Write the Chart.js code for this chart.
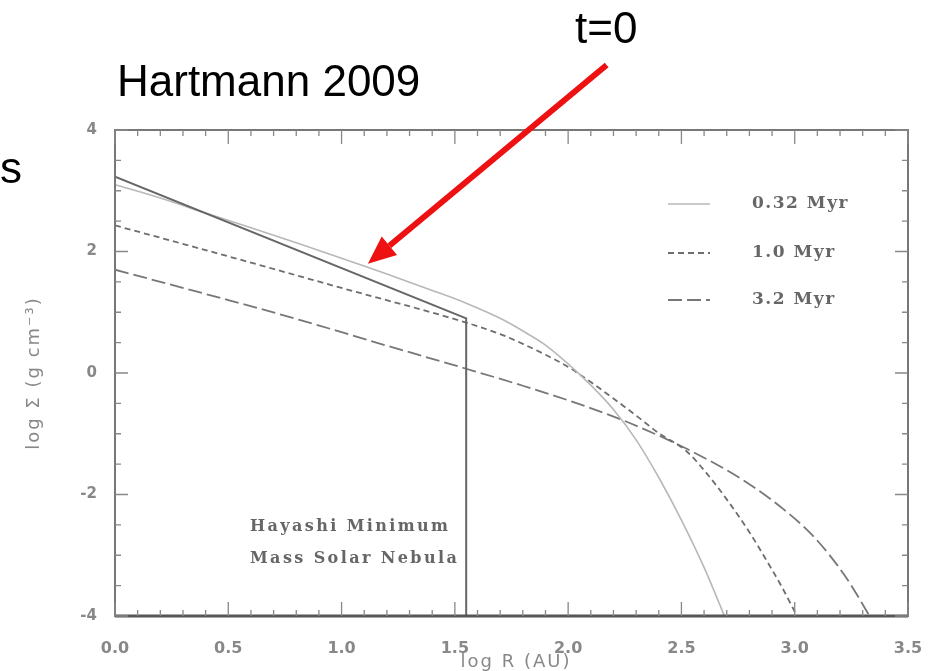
<!DOCTYPE html>
<html>
<head>
<meta charset="utf-8">
<script src="https://cdn.jsdelivr.net/npm/chart.js@4.4.1/dist/chart.umd.min.js"></script>
<style>
  html, body { margin: 0; padding: 0; background: #fff; }
  #wrap { position: relative; width: 932px; height: 671px; }
</style>
</head>
<body>
<div id="wrap"><canvas id="disk" width="932" height="671"></canvas></div>
<script>
// log R (AU) and log Sigma (g cm^-2) for each profile
const mmsnR = [0, 1.55, 1.55];
const mmsnSigma = [3.23, 0.9, -4];

const r032 = [0, 0.2, 0.41, 0.6, 0.81, 1.0, 1.1, 1.2, 1.4, 1.55, 1.7, 1.81, 1.9, 2.0, 2.1, 2.2, 2.3, 2.4, 2.5, 2.6, 2.69];
const s032 = [3.1, 2.88, 2.62, 2.39, 2.13, 1.89, 1.76, 1.63, 1.36, 1.15, 0.9, 0.67, 0.46, 0.15, -0.2, -0.6, -1.1, -1.72, -2.42, -3.2, -4];

const r10 = [0, 0.5, 1.0, 1.55, 1.7, 1.8, 1.9, 2.0, 2.1, 2.2, 2.3, 2.4, 2.52, 2.6, 2.7, 2.8, 2.87, 2.94, 3.01];
const s10 = [2.43, 1.92, 1.4, 0.83, 0.64, 0.48, 0.3, 0.1, -0.15, -0.42, -0.7, -0.99, -1.28, -1.6, -2.08, -2.62, -3.05, -3.5, -4];

const r32 = [0, 0.5, 0.81, 1.2, 1.55, 1.8, 2.04, 2.23, 2.4, 2.53, 2.7, 2.82, 2.95, 3.07, 3.15, 3.22, 3.27, 3.33];
const s32 = [1.7, 1.2, 0.88, 0.45, 0.07, -0.21, -0.5, -0.76, -1.03, -1.26, -1.6, -1.88, -2.24, -2.64, -2.98, -3.33, -3.62, -4];

const seriesNames = ["0.32 Myr", "1.0 Myr", "3.2 Myr"];
const xTicks = [0, 0.5, 1.0, 1.5, 2.0, 2.5, 3.0, 3.5];
const yTicks = [-4, -2, 0, 2, 4];

// where the red arrow starts and ends (log R, log Sigma)
const arrowFrom = [2.17, 5.07];
const arrowTo = [1.116, 1.8];

const pts = (xs, ys) => xs.map((x, i) => ({ x: x, y: ys[i] }));

const profiles = [
  { label: "MMSN", data: pts(mmsnR, mmsnSigma), borderColor: "#666", borderWidth: 2, tension: 0 },
  { label: seriesNames[0], data: pts(r032, s032), borderColor: "#b8b8b8", borderWidth: 1.6 },
  { label: seriesNames[1], data: pts(r10, s10), borderColor: "#6e6e6e", borderWidth: 1.8, borderDash: [6, 4] },
  { label: seriesNames[2], data: pts(r32, s32), borderColor: "#777", borderWidth: 1.8, borderDash: [14, 5] },
];
profiles.forEach((d, i) => {
  d.showLine = true;
  d.pointRadius = 0;
  d.fill = false;
  if (i > 0) d.cubicInterpolationMode = "monotone";
});

// box, inward ticks, legend, labels and the annotations around the plot
const framePlugin = {
  id: "frame",
  afterDraw(chart) {
    const c = chart.ctx;
    const a = chart.chartArea;
    const xs = chart.scales.x, ys = chart.scales.y;
    c.save();

    // frame
    c.strokeStyle = "#777";
    c.lineWidth = 2;
    c.strokeRect(a.left, a.top, a.right - a.left, a.bottom - a.top);
    c.strokeStyle = "#555";
    c.lineWidth = 3;
    c.beginPath();
    c.moveTo(a.left, a.bottom);
    c.lineTo(a.right, a.bottom);
    c.stroke();

    // tick marks pointing inward
    c.strokeStyle = "#888";
    c.lineWidth = 1.3;
    c.beginPath();
    for (let i = 0; i <= 35; i++) {
      const px = xs.getPixelForValue(i / 10);
      const len = i % 5 === 0 ? 14 : 6;
      c.moveTo(px, a.bottom); c.lineTo(px, a.bottom - len);
      c.moveTo(px, a.top); c.lineTo(px, a.top + len);
    }
    for (let j = -8; j <= 8; j++) {
      const py = ys.getPixelForValue(j / 2);
      const len = j % 4 === 0 ? 13 : 6;
      c.moveTo(a.left, py); c.lineTo(a.left + len, py);
      c.moveTo(a.right, py); c.lineTo(a.right - len, py);
    }
    c.stroke();

    // legend
    const rows = [a.top + 74, a.top + 123, a.top + 170];
    c.font = "bold 17px 'DejaVu Serif'";
    c.letterSpacing = "1.5px";
    c.textBaseline = "middle";
    rows.forEach((y, k) => {
      const ds = chart.data.datasets[k + 1];
      c.strokeStyle = ds.borderColor;
      c.lineWidth = ds.borderWidth;
      c.setLineDash(ds.borderDash || []);
      c.beginPath();
      c.moveTo(a.right - 240, y);
      c.lineTo(a.right - 198, y);
      c.stroke();
      c.setLineDash([]);
      c.fillStyle = "#666";
      c.fillText(ds.label, a.right - 156, y);
    });

    // MMSN note
    c.fillStyle = "#666";
    c.font = "bold 16px 'DejaVu Serif'";
    c.letterSpacing = "2.4px";
    c.textBaseline = "alphabetic";
    c.fillText("Hayashi Minimum", a.left + 135, 531);
    c.fillText("Mass Solar Nebula", a.left + 135, 563);

    // axis titles
    c.fillStyle = "#888";
    c.font = "18px 'DejaVu Sans'";
    c.letterSpacing = "2px";
    c.textAlign = "center";
    c.fillText("log R (AU)", 516, 667);
    c.save();
    c.translate(39, 373);
    c.rotate(-Math.PI / 2);
    c.fillText("log \u03A3 (g cm\u207B\u00B3)", 0, 0);
    c.restore();
    c.letterSpacing = "0px";

    // red arrow
    const x0 = xs.getPixelForValue(arrowFrom[0]), y0 = ys.getPixelForValue(arrowFrom[1]);
    const x1 = xs.getPixelForValue(arrowTo[0]), y1 = ys.getPixelForValue(arrowTo[1]);
    const ang = Math.atan2(y1 - y0, x1 - x0);
    const head = 28, half = 12;
    const bx = x1 - head * Math.cos(ang), by = y1 - head * Math.sin(ang);
    c.strokeStyle = "#ee1111";
    c.fillStyle = "#ee1111";
    c.lineWidth = 6;
    c.beginPath();
    c.moveTo(x0, y0);
    c.lineTo(bx, by);
    c.stroke();
    c.beginPath();
    c.moveTo(x1, y1);
    c.lineTo(bx + half * Math.sin(ang), by - half * Math.cos(ang));
    c.lineTo(bx - half * Math.sin(ang), by + half * Math.cos(ang));
    c.closePath();
    c.fill();

    // slide captions
    c.fillStyle = "#000";
    c.font = "44px 'Liberation Sans'";
    c.textAlign = "left";
    c.fillText("Hartmann 2009", 117, 96);
    c.fillText("t=0", 575, 43);
    c.fillText("s", 0, 183);

    c.restore();
  }
};

new Chart(document.getElementById("disk"), {
  type: "scatter",
  data: { datasets: profiles },
  options: {
    responsive: false,
    animation: false,
    layout: { padding: { top: 130, right: 24, left: 0, bottom: 0 } },
    plugins: { legend: { display: false }, tooltip: { enabled: false } },
    scales: {
      x: {
        type: "linear",
        min: 0,
        max: 3.5,
        afterFit: (s) => { s.height = 55; s.paddingLeft = 0; s.paddingRight = 0; },
        afterBuildTicks: (s) => { s.ticks = xTicks.map((v) => ({ value: v })); },
        ticks: {
          callback: (v) => v.toFixed(1),
          padding: 15,
          color: "#888",
          font: { family: "DejaVu Sans", size: 16, weight: "bold" },
          maxRotation: 0,
        },
        grid: { display: false },
        border: { display: false },
      },
      y: {
        type: "linear",
        min: -4,
        max: 4,
        afterFit: (s) => { s.width = 115; s.paddingTop = 0; s.paddingBottom = 0; },
        afterBuildTicks: (s) => { s.ticks = yTicks.map((v) => ({ value: v })); },
        ticks: {
          padding: 10,
          color: "#888",
          font: { family: "DejaVu Sans", size: 15, weight: "bold" },
        },
        grid: { display: false },
        border: { display: false },
      },
    },
  },
  plugins: [framePlugin],
});
</script>
</body>
</html>
